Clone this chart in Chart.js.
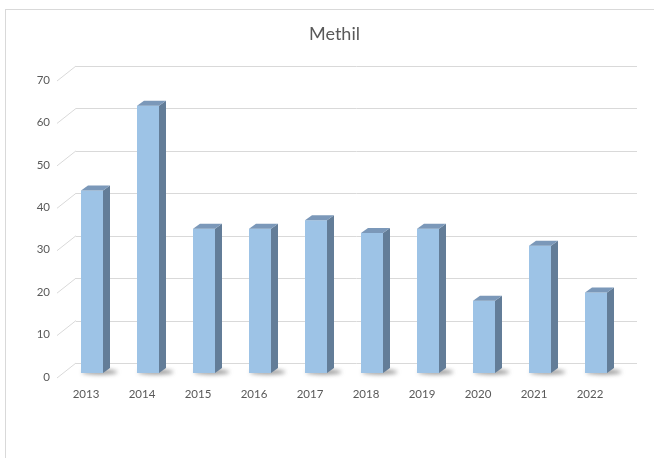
<!DOCTYPE html>
<html>
<head>
<meta charset="utf-8">
<script src="https://cdn.jsdelivr.net/npm/chart.js@4.4.1/dist/chart.umd.min.js"></script>
<style>
  html, body { margin: 0; background: #fff; }
  #wrap { width: 654px; height: 458px; position: relative; }
</style>
</head>
<body>
<div id="wrap"><canvas id="chart"></canvas></div>
<script>
// dati
const years = ["2013", "2014", "2015", "2016", "2017", "2018", "2019", "2020", "2021", "2022"];
const methilValues = [43, 63, 34, 34, 36, 33, 34, 17, 30, 19];
const yMin = 0;
const yMax = 70;
const yStep = 10;
const titleText = "Methil";

// colori in stile Excel 3D
const FRONT = "#9DC3E6";
const SIDE = "#637D98";
const TOP = "#7B98B9";
const GRID = "#D9D9D9";
const TEXT = "#595959";
const FONT = "Lato, 'Open Sans', sans-serif";

// profondità: barra, parete di fondo, bordo anteriore
const BAR_DX = 7, BAR_DY = 5;
const WALL_DX = 12, WALL_DY = 10;
const FRONT_DX = 7, FRONT_DY = 5;

// bordo del grafico + titolo (centrato sull'area del grafico 3D)
const frameBorder = {
    id: "frameBorder",
    beforeDraw(chart) {
        const ctx = chart.ctx;
        ctx.save();
        ctx.strokeStyle = GRID;
        ctx.lineWidth = 1;
        ctx.strokeRect(5.5, 9.5, 800, 600);
        ctx.fillStyle = TEXT;
        ctx.font = "18px " + FONT;
        ctx.textAlign = "center";
        ctx.textBaseline = "middle";
        ctx.fillText(titleText, 334.5, 34);
        ctx.restore();
    }
};

// parete di fondo, linee oblique e ombre sul pavimento
const backWall = {
    id: "backWall",
    beforeDatasetsDraw(chart) {
        const ctx = chart.ctx;
        const area = chart.chartArea;
        const y = chart.scales.y;
        ctx.save();
        ctx.strokeStyle = GRID;
        ctx.lineWidth = 1;
        for (let v = yMin; v <= yMax; v += yStep) {
            const py = y.getPixelForValue(v);
            ctx.beginPath();
            ctx.moveTo(area.left + WALL_DX, Math.round(py - WALL_DY) + 0.5);
            ctx.lineTo(area.right + WALL_DX + 1, Math.round(py - WALL_DY) + 0.5);
            ctx.stroke();
            ctx.beginPath();
            ctx.moveTo(area.left - FRONT_DX, py + FRONT_DY);
            ctx.lineTo(area.left + WALL_DX, py - WALL_DY);
            ctx.stroke();
        }

        // ombre
        const meta = chart.getDatasetMeta(0);
        ctx.filter = "blur(2px)";
        meta.data.forEach(bar => {
            const w = bar.width;
            ctx.fillStyle = "rgba(80,80,80,0.6)";
            ctx.beginPath();
            ctx.ellipse(bar.x + w * 0.35, bar.base - 1, w * 0.8, 2.5, 0, 0, Math.PI * 2);
            ctx.fill();
        });
        ctx.restore();
    }
};

// facce laterali e superiori delle barre
const bar3d = {
    id: "bar3d",
    afterDatasetsDraw(chart) {
        const ctx = chart.ctx;
        const meta = chart.getDatasetMeta(0);
        ctx.save();
        meta.data.forEach(bar => {
            const l = bar.x - bar.width / 2;
            const r = bar.x + bar.width / 2;
            const t = bar.y;
            const b = bar.base;

            ctx.fillStyle = SIDE;
            ctx.beginPath();
            ctx.moveTo(r, t);
            ctx.lineTo(r + BAR_DX, t - BAR_DY);
            ctx.lineTo(r + BAR_DX, b - BAR_DY);
            ctx.lineTo(r, b);
            ctx.closePath();
            ctx.fill();

            ctx.fillStyle = TOP;
            ctx.beginPath();
            ctx.moveTo(l, t);
            ctx.lineTo(r, t);
            ctx.lineTo(r + BAR_DX, t - BAR_DY);
            ctx.lineTo(l + BAR_DX, t - BAR_DY);
            ctx.closePath();
            ctx.fill();
        });
        ctx.restore();
    }
};

const ctx = document.getElementById("chart").getContext("2d");

const methilChart = new Chart(ctx, {
    type: "bar",
    data: {
        labels: years,
        datasets: [{
            label: titleText,
            data: methilValues,
            backgroundColor: FRONT,
            borderWidth: 0,
            categoryPercentage: 1,
            barPercentage: 22 / 56
        }]
    },
    options: {
        responsive: true,
        maintainAspectRatio: false,
        animation: false,
        layout: {
            padding: { left: 0, right: 30, top: 76, bottom: 0 }
        },
        plugins: {
            legend: { display: false },
            tooltip: { enabled: false },
            title: { display: false }
        },
        scales: {
            x: {
                grid: { display: false, drawTicks: false },
                border: { display: false },
                ticks: {
                    color: TEXT,
                    font: { family: FONT, size: 11.5 },
                    padding: 14,
                    labelOffset: -6,
                    maxRotation: 0
                },
                afterFit: scale => { scale.height = 85; }
            },
            y: {
                min: yMin,
                max: yMax,
                grid: { display: false, drawTicks: false },
                border: { display: false },
                ticks: {
                    stepSize: yStep,
                    color: TEXT,
                    font: { family: FONT, size: 11.5 },
                    padding: 14,
                    labelOffset: 4
                },
                afterFit: scale => { scale.width = 64; }
            }
        }
    },
    plugins: [frameBorder, backWall, bar3d]
});
</script>
</body>
</html>
